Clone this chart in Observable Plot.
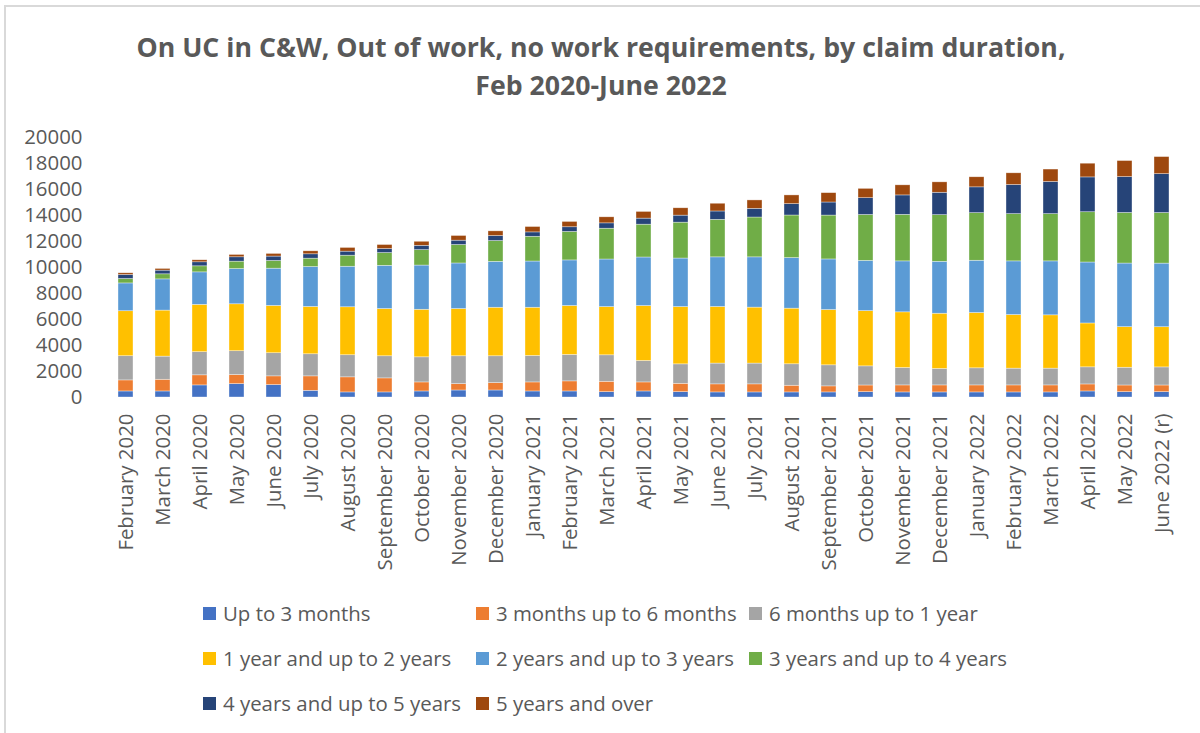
<!DOCTYPE html>
<html>
<head>
<meta charset="utf-8">
<script src="https://cdn.jsdelivr.net/npm/d3@7"></script>
<script src="https://cdn.jsdelivr.net/npm/@observablehq/plot@0.6"></script>
<style>
  html, body { margin: 0; padding: 0; background: #fff; }
  body { width: 1200px; height: 733px; overflow: hidden; position: relative; font-family: "Open Sans", sans-serif; color: #595959; }
  #frame { position: absolute; left: 4px; top: 5px; width: 1300px; height: 900px; border: 2px solid #d9d9d9; box-sizing: border-box; }
  #title { position: absolute; left: 0; top: 28px; width: 1202px; text-align: center; font-weight: bold; font-size: 26.7px; line-height: 38px; color: #595959; }
  #chart { position: absolute; left: 0; top: 120px; }
  #legend { position: absolute; left: 0; top: 0; width: 1200px; height: 733px; pointer-events: none; }
  .item { position: absolute; display: flex; align-items: center; font-size: 20.4px; color: #595959; white-space: nowrap; }
  .sw { width: 13px; height: 13px; margin-right: 7px; flex: none; }
</style>
</head>
<body>
<div id="frame"></div>
<div id="title">On UC in C&amp;W, Out of work, no work requirements, by claim duration,<br>Feb 2020-June 2022</div>
<div id="chart"></div>
<div id="legend"></div>
<script>
const months = ["February 2020","March 2020","April 2020","May 2020","June 2020","July 2020","August 2020","September 2020","October 2020","November 2020","December 2020","January 2021","February 2021","March 2021","April 2021","May 2021","June 2021","July 2021","August 2021","September 2021","October 2021","November 2021","December 2021","January 2022","February 2022","March 2022","April 2022","May 2022","June 2022 (r)"];

const seriesNames = ["Up to 3 months","3 months up to 6 months","6 months up to 1 year","1 year and up to 2 years","2 years and up to 3 years","3 years and up to 4 years","4 years and up to 5 years","5 years and over"];
const seriesColors = ["#4472C4","#ED7D31","#A5A5A5","#FFC000","#5B9BD5","#70AD47","#264478","#9E480E"];

const upTo3m   = [465,465,930,1030,955,515,390,390,465,540,540,465,465,410,465,410,390,390,390,390,410,390,390,390,390,390,465,410,410];
const m3to6    = [850,900,775,700,670,1110,1160,1080,695,490,570,695,775,800,695,645,620,620,515,465,515,540,540,540,540,540,540,515,515];
const m6to1y   = [1860,1780,1780,1830,1780,1700,1700,1700,1930,2140,2060,2035,2035,2035,1650,1495,1600,1600,1650,1620,1470,1340,1265,1315,1290,1290,1315,1365,1390];
const y1to2    = [3460,3540,3640,3610,3640,3640,3690,3635,3660,3635,3735,3710,3765,3710,4225,4405,4355,4305,4280,4255,4250,4280,4250,4255,4125,4100,3375,3120,3090];
const y2to3    = [2140,2400,2500,2710,2865,3070,3120,3325,3400,3505,3530,3555,3505,3660,3735,3735,3815,3865,3890,3890,3865,3920,3995,4020,4125,4150,4690,4895,4895];
const y3to4    = [340,390,465,570,595,645,850,980,1185,1420,1600,1905,2190,2370,2525,2760,2885,3065,3275,3375,3530,3580,3585,3660,3635,3635,3865,3890,3890];
const y4to5    = [310,285,310,335,335,335,310,310,335,335,385,335,360,410,465,540,645,670,875,1005,1290,1495,1725,1985,2240,2475,2680,2760,2990];
const y5plus   = [130,130,155,180,205,230,285,310,310,360,360,415,410,465,515,565,595,645,670,720,720,775,800,775,900,955,1055,1235,1315];

const yTicks = [0,2000,4000,6000,8000,10000,12000,14000,16000,18000,20000];

const seriesValues = [upTo3m, m3to6, m6to1y, y1to2, y2to3, y3to4, y4to5, y5plus];
const data = [];
seriesNames.forEach((s, si) => {
  months.forEach((m, mi) => data.push({month: m, series: s, value: seriesValues[si][mi]}));
});

const plot = Plot.plot({
  width: 1200,
  height: 470,
  marginTop: 17,
  marginBottom: 193,
  marginLeft: 107,
  marginRight: 20,
  style: {fontFamily: "Open Sans, sans-serif", fontSize: "20.4px", color: "#595959", background: "transparent"},
  x: {domain: months, paddingInner: 0.6, paddingOuter: 0.285, label: null},
  y: {domain: [0, 20000], label: null},
  color: {domain: seriesNames, range: seriesColors},
  marks: [
    Plot.gridY(yTicks, {stroke: "#d9d9d9", strokeOpacity: 1, strokeWidth: 1.5, x1: 105, x2: 1180}),
    Plot.barY(data, {x: "month", y: "value", fill: "series", stroke: "white", strokeWidth: 0.6, strokeOpacity: 0.6}),
    Plot.axisY(yTicks, {tickSize: 0, tickPadding: 25, tickFormat: d => String(d), fontSize: 20.4, fill: "#595959"}),
    Plot.axisX({tickSize: 0, tickPadding: 16, tickRotate: -90, fontSize: 20.4, fill: "#595959"})
  ]
});
document.getElementById("chart").appendChild(plot);

const legendPos = [[203,613],[476,613],[749,613],[203,658],[476,658],[749,658],[203,703],[476,703]];
const leg = document.getElementById("legend");
seriesNames.forEach((s, i) => {
  const d = document.createElement("div");
  d.className = "item";
  d.style.left = legendPos[i][0] + "px";
  d.style.top = (legendPos[i][1] - 14) + "px";
  d.style.height = "28px";
  d.innerHTML = `<span class="sw" style="background:${seriesColors[i]}"></span><span>${s}</span>`;
  leg.appendChild(d);
});
</script>
</body>
</html>
